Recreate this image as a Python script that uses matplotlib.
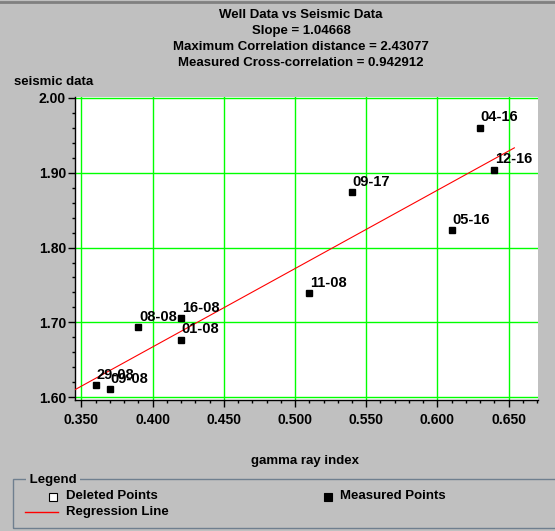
import matplotlib
matplotlib.use("Agg")
import matplotlib.pyplot as plt
from matplotlib.lines import Line2D
from matplotlib.patches import Rectangle
from matplotlib.ticker import MultipleLocator, FormatStrFormatter

# well ties: gamma ray index vs seismic attribute
wells = ["29-08", "09-08", "08-08", "16-08", "01-08",
         "11-08", "09-17", "05-16", "04-16", "12-16"]
gamma_ray = [0.360, 0.370, 0.390, 0.420, 0.420,
             0.510, 0.540, 0.610, 0.630, 0.640]
seismic = [1.616, 1.611, 1.694, 1.706, 1.677,
           1.739, 1.874, 1.823, 1.960, 1.904]

slope = 1.04668
max_corr_dist = 2.43077
cross_corr = 0.942912
line_x = [0.345, 0.654]

W, H = 555, 531
BG = "#c0c0c0"
FS = 9.5
plt.rcParams["font.family"] = ["Liberation Sans", "DejaVu Sans"]
plt.rcParams["font.weight"] = "bold"


def px(x, y):
    # pixel position (from top-left) -> figure fraction
    return x / W, 1 - y / H


fig = plt.figure(figsize=(W / 100, H / 100), dpi=100, facecolor=BG)

l, b = px(75, 400)
r, t = px(538, 97)
ax = fig.add_axes([l, b, r - l, t - b])
ax.set_facecolor("white")

# regression line through the means with the reported slope
mx = sum(gamma_ray) / len(gamma_ray)
my = sum(seismic) / len(seismic)
intercept = my - slope * mx
line_y = [slope * x + intercept for x in line_x]

ax.plot(line_x, line_y, color="red", lw=0.8, zorder=3)
ax.plot(gamma_ray, seismic, "s", color="black", ms=5, zorder=4)
for name, x, y in zip(wells, gamma_ray, seismic):
    ax.annotate(name, (x, y), xytext=(0.5, 4.5), textcoords="offset points",
                fontsize=10.5, fontweight="bold", ha="left", va="baseline",
                zorder=5)

ax.set_xlim(0.3455, 0.6706)
ax.set_ylim(1.5964, 2.001)
ax.xaxis.set_major_locator(MultipleLocator(0.05))
ax.xaxis.set_minor_locator(MultipleLocator(0.01))
ax.yaxis.set_major_locator(MultipleLocator(0.1))
ax.yaxis.set_minor_locator(MultipleLocator(0.02))
ax.xaxis.set_major_formatter(FormatStrFormatter("%.3f"))
ax.yaxis.set_major_formatter(FormatStrFormatter("%.2f"))
ax.grid(True, which="major", color="#00ff00", lw=1.0)
ax.set_axisbelow(True)

for side in ("top", "right"):
    ax.spines[side].set_visible(False)
for side in ("left", "bottom"):
    ax.spines[side].set_color("black")
    ax.spines[side].set_linewidth(1.0)
ax.tick_params(which="major", direction="out", length=5, width=1,
               labelsize=FS + 0.5)
ax.tick_params(axis="x", which="major", pad=4)
ax.tick_params(axis="y", which="major", pad=1.5)
ax.tick_params(which="minor", direction="out", length=2.5, width=1)
for lab in ax.get_xticklabels() + ax.get_yticklabels():
    lab.set_fontweight("bold")

# titles
titles = ["Well Data vs Seismic Data",
          f"Slope = {slope}",
          f"Maximum Correlation distance = {max_corr_dist}",
          f"Measured Cross-correlation = {cross_corr}"]
for i, txt in enumerate(titles):
    fig.text(*px(301, 15 + 16 * i), txt, ha="center", va="center",
             fontsize=FS, fontweight="bold")
fig.text(*px(14, 82), "seismic data", ha="left", va="center",
         fontsize=FS, fontweight="bold")
fig.text(*px(305, 461), "gamma ray index", ha="center", va="center",
         fontsize=FS, fontweight="bold")

# top border
fig.add_artist(Line2D([0, 1], [px(0, 2)[1]] * 2, color="#808080", lw=2,
                      transform=fig.transFigure))

# legend frame
x0, y0 = px(13, 528)
x1, y1 = px(560, 479)
fig.add_artist(Rectangle((x0, y0), x1 - x0, y1 - y0, transform=fig.transFigure,
                         fill=False, edgecolor="#6f7f8f", lw=1))
fig.text(*px(26, 480), " Legend ", ha="left", va="center", fontsize=FS,
         fontweight="bold", bbox=dict(facecolor=BG, edgecolor="none", pad=0))

sx, sy = px(48.5, 501)
sw, sh = 8 / W, 8.5 / H
fig.add_artist(Rectangle((sx, sy), sw, sh, transform=fig.transFigure,
                         facecolor="white", edgecolor="black", lw=0.8))
fig.text(*px(66, 496), "Deleted Points", ha="left", va="center",
         fontsize=FS, fontweight="bold")

mx0, my0 = px(324, 501)
fig.add_artist(Rectangle((mx0, my0), sw, sh, transform=fig.transFigure,
                         facecolor="black", edgecolor="black", lw=0.8))
fig.text(*px(340, 496), "Measured Points", ha="left", va="center",
         fontsize=FS, fontweight="bold")

lx0, ly = px(25, 512)
lx1, _ = px(58, 512)
fig.add_artist(Line2D([lx0, lx1], [ly, ly], color="red", lw=1,
                      transform=fig.transFigure))
fig.text(*px(66, 512), "Regression Line", ha="left", va="center",
         fontsize=FS, fontweight="bold")

fig.savefig("out.png", dpi=100, facecolor=BG)
